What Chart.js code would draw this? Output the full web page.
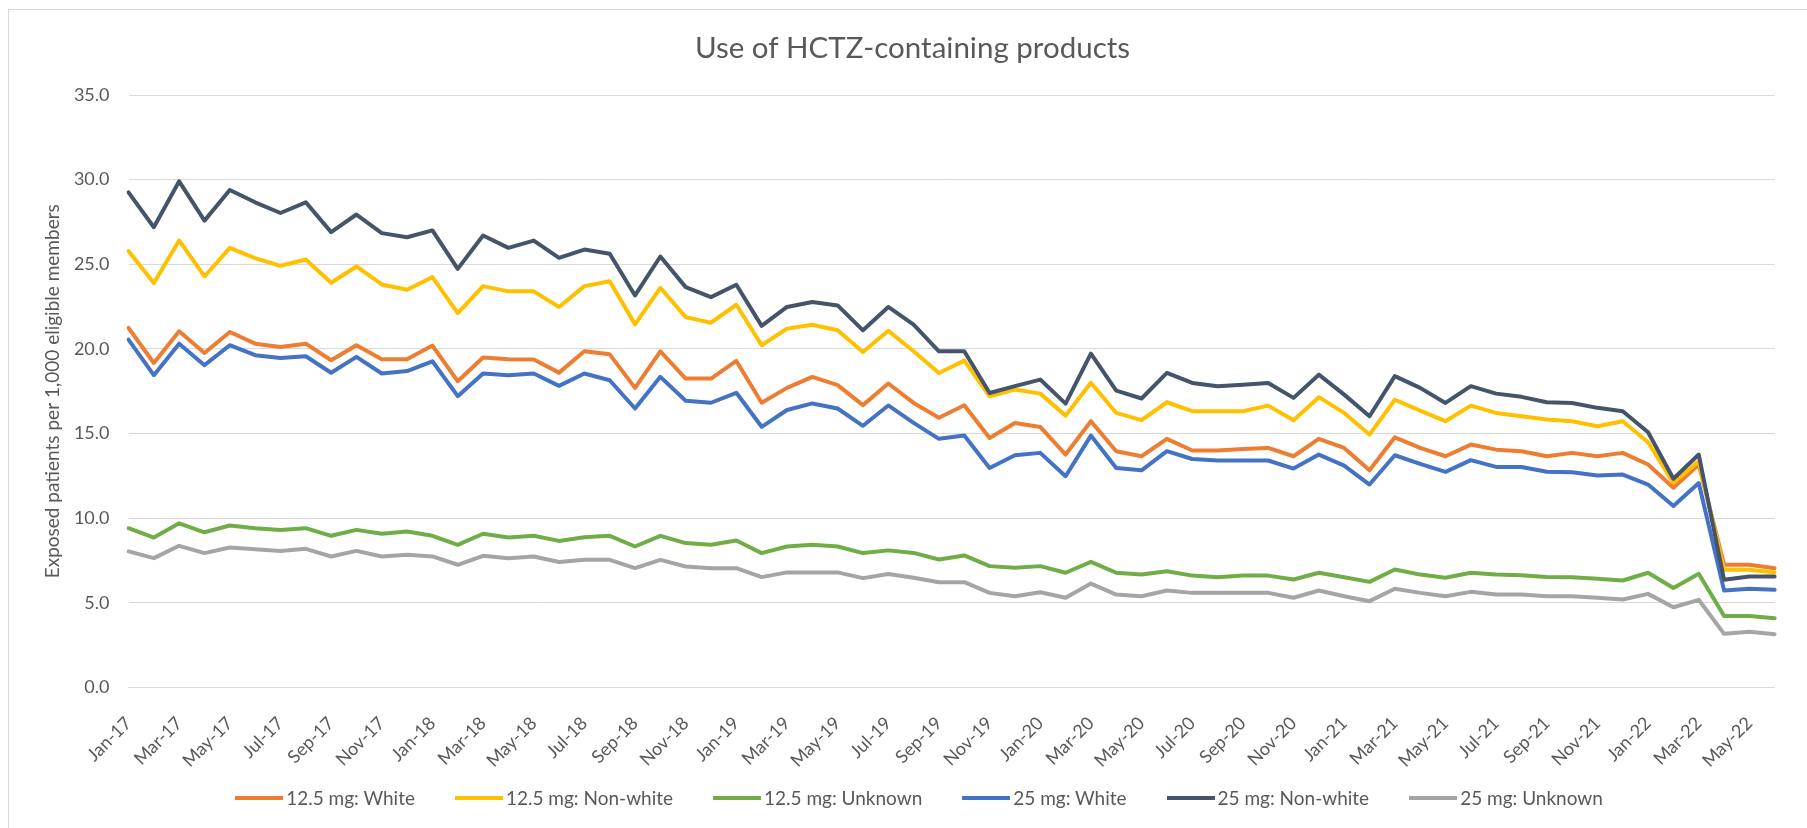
<!DOCTYPE html>
<html>
<head>
<meta charset="utf-8">
<script src="https://cdn.jsdelivr.net/npm/chart.js@4.4.1/dist/chart.umd.min.js"></script>
<style>
  html, body { margin: 0; padding: 0; background: #fff; overflow: hidden; }
  #wrap { position: relative; width: 1807px; height: 828px; }
  #frame { position: absolute; left: 8px; top: 9px; width: 1830px; height: 840px; border: 1px solid #d9d9d9; }
  #chart { position: absolute; left: 0; top: 0; }
  #legend { position: absolute; left: 0; width: 1838px; top: 786px; display: flex; justify-content: center;
    font-family: Lato, "Open Sans", sans-serif; font-size: 19px; color: #595959; }
  .item { display: flex; align-items: center; margin: 0 20px; }
  .swatch { width: 48px; height: 4px; margin-right: 3px; }
</style>
</head>
<body>
<div id="wrap">
  <div id="frame"></div>
  <canvas id="chart" width="1807" height="828"></canvas>
  <div id="legend"></div>
</div>
<script>
const months = ["Jan-17","Feb-17","Mar-17","Apr-17","May-17","Jun-17","Jul-17","Aug-17","Sep-17","Oct-17","Nov-17","Dec-17",
  "Jan-18","Feb-18","Mar-18","Apr-18","May-18","Jun-18","Jul-18","Aug-18","Sep-18","Oct-18","Nov-18","Dec-18",
  "Jan-19","Feb-19","Mar-19","Apr-19","May-19","Jun-19","Jul-19","Aug-19","Sep-19","Oct-19","Nov-19","Dec-19",
  "Jan-20","Feb-20","Mar-20","Apr-20","May-20","Jun-20","Jul-20","Aug-20","Sep-20","Oct-20","Nov-20","Dec-20",
  "Jan-21","Feb-21","Mar-21","Apr-21","May-21","Jun-21","Jul-21","Aug-21","Sep-21","Oct-21","Nov-21","Dec-21",
  "Jan-22","Feb-22","Mar-22","Apr-22","May-22","Jun-22"];

const white125 = [21.24,19.17,21.04,19.76,21.0,20.31,20.12,20.31,19.33,20.22,
  19.39,19.39,20.2,18.09,19.49,19.39,19.37,18.6,19.86,19.68,
  17.7,19.86,18.25,18.25,19.29,16.82,17.7,18.35,17.86,16.68,
  17.96,16.81,15.93,16.67,14.74,15.63,15.39,13.76,15.73,13.96,
  13.66,14.69,14.0,14.0,14.09,14.15,13.66,14.69,14.15,12.83,
  14.78,14.15,13.66,14.35,14.05,13.96,13.66,13.86,13.66,13.86,
  13.17,11.8,13.17,7.25,7.25,7.05];
const nonWhite125 = [25.78,23.89,26.41,24.28,25.97,25.36,24.91,25.28,23.91,24.87,
  23.81,23.5,24.24,22.12,23.71,23.4,23.4,22.48,23.71,24.0,
  21.45,23.61,21.88,21.55,22.61,20.22,21.2,21.43,21.1,19.82,
  21.07,19.86,18.58,19.31,17.2,17.6,17.36,16.06,18.0,16.22,
  15.79,16.85,16.32,16.32,16.32,16.65,15.79,17.15,16.22,14.94,
  17.0,16.36,15.73,16.65,16.22,16.02,15.83,15.73,15.43,15.73,
  14.49,12.09,13.36,6.95,6.95,6.8];
const unknown125 = [9.41,8.86,9.70,9.17,9.57,9.41,9.31,9.41,8.96,9.31,
  9.08,9.21,8.96,8.43,9.08,8.86,8.96,8.66,8.88,8.96,
  8.33,8.96,8.53,8.43,8.68,7.94,8.33,8.43,8.33,7.94,
  8.1,7.95,7.56,7.8,7.17,7.07,7.17,6.78,7.42,6.78,
  6.67,6.87,6.61,6.51,6.61,6.61,6.38,6.78,6.51,6.24,
  6.97,6.67,6.48,6.78,6.67,6.63,6.53,6.51,6.42,6.32,
  6.78,5.88,6.72,4.23,4.23,4.09];
const white25 = [20.55,18.45,20.31,19.04,20.22,19.63,19.47,19.57,18.59,19.53,
  18.55,18.69,19.27,17.21,18.55,18.45,18.55,17.82,18.55,18.15,
  16.48,18.35,16.94,16.82,17.41,15.4,16.39,16.78,16.48,15.46,
  16.66,15.63,14.69,14.88,12.97,13.72,13.86,12.48,14.88,12.97,
  12.83,13.96,13.5,13.41,13.41,13.41,12.93,13.76,13.11,11.99,
  13.72,13.21,12.74,13.43,13.03,13.03,12.74,12.72,12.52,12.58,
  11.99,10.72,12.08,5.73,5.83,5.77];
const nonWhite25 = [29.25,27.19,29.9,27.58,29.39,28.66,28.03,28.66,26.9,27.94,
  26.84,26.6,27.0,24.73,26.7,25.97,26.4,25.38,25.87,25.62,
  23.16,25.46,23.65,23.06,23.79,21.36,22.48,22.77,22.57,21.1,
  22.48,21.44,19.86,19.86,17.4,17.8,18.19,16.77,19.72,17.54,
  17.07,18.58,17.99,17.8,17.89,17.99,17.11,18.48,17.3,16.02,
  18.39,17.7,16.81,17.8,17.36,17.17,16.85,16.81,16.52,16.32,
  15.08,12.33,13.76,6.36,6.56,6.56];
const unknown25 = [8.04,7.64,8.37,7.94,8.27,8.17,8.07,8.19,7.74,8.07,
  7.74,7.84,7.74,7.25,7.78,7.64,7.74,7.41,7.54,7.54,
  7.05,7.54,7.15,7.05,7.05,6.52,6.8,6.8,6.8,6.46,
  6.7,6.48,6.22,6.22,5.59,5.39,5.63,5.3,6.14,5.49,
  5.39,5.73,5.59,5.59,5.59,5.59,5.3,5.73,5.39,5.1,
  5.83,5.59,5.39,5.65,5.49,5.49,5.39,5.39,5.3,5.2,
  5.53,4.74,5.18,3.17,3.3,3.15];

const seriesNames = ["12.5 mg: White", "12.5 mg: Non-white", "12.5 mg: Unknown",
  "25 mg: White", "25 mg: Non-white", "25 mg: Unknown"];
const seriesValues = [white125, nonWhite125, unknown125, white25, nonWhite25, unknown25];
const seriesColors = ["#ED7D31", "#FFC000", "#70AD47", "#4472C4", "#44546A", "#A5A5A5"];

const textColor = "#595959";
const fontFamily = "Lato, 'Open Sans', sans-serif";

const datasets = seriesNames.map((name, i) => ({
  label: name,
  data: seriesValues[i],
  borderColor: seriesColors[i],
  backgroundColor: seriesColors[i],
  borderWidth: 4,
  pointRadius: 0,
  tension: 0,
  borderJoinStyle: "round",
  borderCapStyle: "round",
  order: seriesNames.length - i
}));

new Chart(document.getElementById("chart"), {
  type: "line",
  data: { labels: months, datasets },
  options: {
    responsive: false,
    animation: false,
    layout: { padding: { left: 30, right: 12, top: 30, bottom: 0 } },
    plugins: {
      legend: { display: false },
      tooltip: { enabled: false },
      title: {
        display: true,
        text: "Use of HCTZ-containing products",
        color: textColor,
        font: { family: fontFamily, size: 29.5, weight: "normal" },
        padding: { top: 1, bottom: 28.6 }
      }
    },
    scales: {
      x: {
        grid: { display: false },
        border: { display: true, color: "#d9d9d9" },
        ticks: {
          autoSkip: false,
          maxRotation: 45,
          minRotation: 45,
          padding: 17,
          color: textColor,
          font: { family: fontFamily, size: 18 },
          callback: (v, i) => (i % 2 === 0 ? months[i] : "")
        },
        afterFit: (scale) => { scale.height = 140.5; }
      },
      y: {
        min: 0,
        max: 35,
        ticks: {
          stepSize: 5,
          padding: 19,
          color: textColor,
          font: { family: fontFamily, size: 18 },
          callback: (v) => Number(v).toFixed(1)
        },
        grid: { color: "#d9d9d9", lineWidth: 1, drawTicks: false },
        border: { display: false },
        title: {
          display: true,
          text: "Exposed patients per 1,000 eligible members",
          color: textColor,
          font: { family: fontFamily, size: 19 },
          padding: { top: 11, bottom: 0 }
        },
        afterFit: (scale) => { scale.width = 98.5; }
      }
    }
  }
});

// legend built from the same series arrays
const legendEl = document.getElementById("legend");
seriesNames.forEach((name, i) => {
  const item = document.createElement("div");
  item.className = "item";
  const sw = document.createElement("span");
  sw.className = "swatch";
  sw.style.background = seriesColors[i];
  const tx = document.createElement("span");
  tx.textContent = name;
  item.appendChild(sw);
  item.appendChild(tx);
  legendEl.appendChild(item);
});
</script>
</body>
</html>
